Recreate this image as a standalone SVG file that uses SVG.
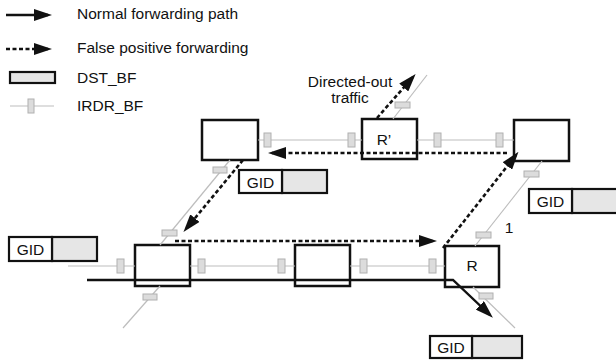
<svg xmlns="http://www.w3.org/2000/svg" width="616" height="362" viewBox="0 0 616 362">
  <style>
    text { font-family: "Liberation Sans", Arial, sans-serif; font-size: 15.5px; fill: #111; }
    .box { fill: none; stroke: #111; stroke-width: 2.5; }
    .cell { fill: #fff; stroke: #111; stroke-width: 2.2; }
    .bf { fill: #e6e6e6; stroke: #111; stroke-width: 2.2; }
    .link { stroke: #bdbdbd; stroke-width: 1.2; fill: none; }
    .tick { fill: #dcdcdc; stroke: #b0b0b0; stroke-width: 1; }
    .solid { stroke: #111; stroke-width: 2.4; fill: none; }
    .dash { stroke: #111; stroke-width: 2.6; fill: none; stroke-dasharray: 4 2.5; }
    .mid { text-anchor: middle; }
  </style>
  <defs>
    <marker id="head" markerUnits="userSpaceOnUse" markerWidth="18" markerHeight="12" refX="14" refY="6" orient="auto">
      <path d="M0,0 L18,6 L0,12 z" fill="#111"/>
    </marker>
  </defs>

  <!-- legend -->
  <g id="legend">
    <line x1="6" y1="15" x2="48" y2="15" class="solid" marker-end="url(#head)"/>
    <text x="77" y="19">Normal forwarding path</text>
    <line x1="6" y1="49" x2="48" y2="49" class="dash" marker-end="url(#head)"/>
    <text x="77" y="53">False positive forwarding</text>
    <rect x="10" y="72" width="45" height="11" class="bf"/>
    <text x="77" y="83">DST_BF</text>
    <line x1="10" y1="106" x2="54" y2="106" class="link"/>
    <rect x="28" y="99" width="6" height="14" class="tick"/>
    <text x="77" y="111">IRDR_BF</text>
  </g>

  <!-- routers -->
  <g id="node-top-left"><rect x="202" y="120" width="56" height="40" class="box"/></g>
  <g id="node-r-prime">
    <rect x="362" y="119" width="55" height="40" class="box"/>
    <text x="384" y="145" class="mid">R’</text>
  </g>
  <g id="node-top-right"><rect x="514" y="120" width="55" height="41" class="box"/></g>
  <g id="node-bottom-left"><rect x="135" y="245" width="55" height="41" class="box"/></g>
  <g id="node-bottom-mid"><rect x="295" y="245" width="55" height="41" class="box"/></g>
  <g id="node-r">
    <rect x="445" y="246" width="54" height="41" class="box"/>
    <text x="472" y="271" class="mid">R</text>
  </g>

  <!-- GID / DST_BF labels -->
  <g id="gid-top">
    <rect x="282" y="170" width="45" height="23" class="bf"/>
    <rect x="239" y="170" width="43" height="23" class="cell"/>
    <text x="260.5" y="187.5" class="mid">GID</text>
  </g>
  <g id="gid-right">
    <rect x="572" y="189" width="48" height="24" class="bf"/>
    <rect x="529" y="189" width="43" height="24" class="cell"/>
    <text x="550.5" y="206.5" class="mid">GID</text>
  </g>
  <g id="gid-left">
    <rect x="52" y="237" width="45" height="24" class="bf"/>
    <rect x="9" y="237" width="43" height="24" class="cell"/>
    <text x="30.5" y="254.5" class="mid">GID</text>
  </g>
  <g id="gid-bottom">
    <rect x="472" y="336" width="50" height="22" class="bf"/>
    <rect x="430" y="336" width="42" height="22" class="cell"/>
    <text x="451" y="352.5" class="mid">GID</text>
  </g>

  <!-- connectors -->
  <g id="connectors">
    <!-- links between routers -->
    <line x1="258" y1="140" x2="362" y2="140" class="link"/>
    <line x1="417" y1="140" x2="514" y2="140" class="link"/>
    <line x1="68" y1="266" x2="135" y2="266" class="link"/>
    <line x1="190" y1="266" x2="295" y2="266" class="link"/>
    <line x1="350" y1="266" x2="445" y2="266" class="link"/>
    <line x1="230" y1="160" x2="160" y2="245" class="link"/>
    <line x1="160" y1="286" x2="123" y2="328" class="link"/>
    <line x1="542" y1="161" x2="475" y2="246" class="link"/>
    <line x1="473" y1="287" x2="515" y2="328" class="link"/>
    <line x1="393" y1="119" x2="427" y2="75" class="link"/>

    <!-- IRDR_BF markers on links -->
    <rect x="264" y="133" width="7" height="14" class="tick"/>
    <rect x="348" y="133" width="7" height="14" class="tick"/>
    <rect x="434" y="133" width="7" height="14" class="tick"/>
    <rect x="496" y="133" width="7" height="14" class="tick"/>
    <rect x="117" y="259" width="7" height="14" class="tick"/>
    <rect x="198" y="259" width="7" height="14" class="tick"/>
    <rect x="278" y="259" width="7" height="14" class="tick"/>
    <rect x="360" y="259" width="7" height="14" class="tick"/>
    <rect x="429" y="259" width="7" height="14" class="tick"/>
    <rect x="213" y="167" width="14" height="6" class="tick"/>
    <rect x="162" y="230" width="15" height="6" class="tick"/>
    <rect x="143" y="294" width="14" height="6" class="tick"/>
    <rect x="524" y="171" width="15" height="6" class="tick"/>
    <rect x="476" y="232" width="15" height="6" class="tick"/>
    <rect x="479" y="293" width="14" height="6" class="tick"/>
    <rect x="395" y="102" width="15" height="6" class="tick"/>

    <!-- normal forwarding path -->
    <polyline points="87,280 453,280 490,315" class="solid" marker-end="url(#head)"/>

    <!-- false positive forwarding -->
    <line x1="175" y1="241" x2="433" y2="241" class="dash" marker-end="url(#head)"/>
    <line x1="443" y1="248" x2="516" y2="155" class="dash" marker-end="url(#head)"/>
    <line x1="507" y1="153" x2="272" y2="153" class="dash" marker-end="url(#head)"/>
    <line x1="243" y1="160" x2="186" y2="229" class="dash" marker-end="url(#head)"/>
    <line x1="377" y1="118" x2="413" y2="77" class="dash" marker-end="url(#head)"/>

    <text x="350" y="87" class="mid">Directed-out</text>
    <text x="350" y="103" class="mid">traffic</text>
    <text x="509" y="233" class="mid">1</text>
  </g>
</svg>
